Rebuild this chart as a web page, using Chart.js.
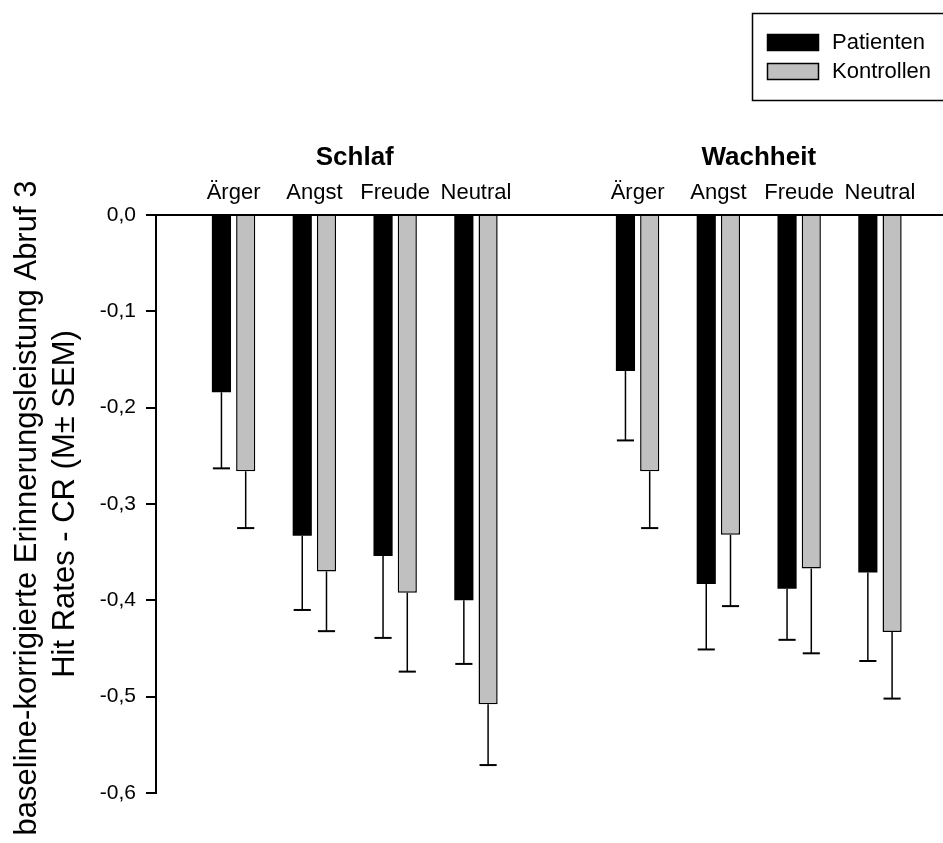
<!DOCTYPE html>
<html>
<head>
<meta charset="utf-8">
<script src="https://cdn.jsdelivr.net/npm/chart.js@4"></script>
<style>
  html, body { margin: 0; padding: 0; background: #fff; overflow: hidden; }
  canvas { display: block; }
</style>
</head>
<body>
<canvas id="chart" width="943" height="843"></canvas>
<script>
// Categories (two conditions, four emotions each)
const xPos = [1, 2, 3, 4, 6, 7, 8, 9]
const tickLabels = ["Ärger", "Angst", "Freude", "Neutral", "Ärger", "Angst", "Freude", "Neutral"]
const groupTitles = ["Schlaf", "Wachheit"]
const groupMembers = [[1, 2, 3, 4], [6, 7, 8, 9]]

// Series values (M) and error (SEM)
const patienten = [-0.184, -0.333, -0.354, -0.400, -0.162, -0.383, -0.388, -0.371]
const kontrollen = [-0.266, -0.370, -0.392, -0.508, -0.266, -0.332, -0.367, -0.433]
const semPatienten = [0.079, 0.077, 0.085, 0.066, 0.072, 0.068, 0.053, 0.092]
const semKontrollen = [0.059, 0.062, 0.082, 0.063, 0.059, 0.074, 0.088, 0.069]

// Axis ticks and titles
const yTicks = [0, -0.1, -0.2, -0.3, -0.4, -0.5, -0.6]
const yTitleLines = ["baseline-korrigierte Erinnerungsleistung Abruf 3", "Hit Rates - CR (M\u00b1 SEM)"]
const seriesNames = ["Patienten", "Kontrollen"]

const FONT = "'Liberation Sans', Arial, sans-serif"

// error bars drawn downward from the bar end
const errorBars = {
  id: "errorBars",
  afterDatasetsDraw(chart) {
    const { ctx } = chart
    const y = chart.scales.y
    const sems = [semPatienten, semKontrollen]
    ctx.save()
    ctx.strokeStyle = "#000"
    chart.data.datasets.forEach((ds, di) => {
      const meta = chart.getDatasetMeta(di)
      meta.data.forEach((bar, i) => {
        const v = ds.data[i].y
        const y0 = y.getPixelForValue(v)
        const y1 = y.getPixelForValue(v - sems[di][i])
        const half = bar.width / 2 - 1
        ctx.lineWidth = 1.5
        ctx.beginPath()
        ctx.moveTo(bar.x, y0)
        ctx.lineTo(bar.x, y1)
        ctx.stroke()
        ctx.lineWidth = 2
        ctx.beginPath()
        ctx.moveTo(bar.x - half, y1)
        ctx.lineTo(bar.x + half, y1)
        ctx.stroke()
      })
    })
    ctx.restore()
  }
}

// group titles, y title and boxed legend
const decorations = {
  id: "decorations",
  afterDraw(chart) {
    const { ctx } = chart
    const x = chart.scales.x
    ctx.save()
    ctx.fillStyle = "#000"

    ctx.font = "bold 26px " + FONT
    ctx.textAlign = "center"
    ctx.textBaseline = "alphabetic"
    groupTitles.forEach((t, i) => {
      const m = groupMembers[i]
      const cx = (x.getPixelForValue(m[0]) + x.getPixelForValue(m[m.length - 1])) / 2
      ctx.fillText(t, cx, 165)
    })

    ctx.save()
    ctx.rotate(-Math.PI / 2)
    ctx.font = "31px " + FONT
    ctx.fillText(yTitleLines[0], -508, 36)
    ctx.fillText(yTitleLines[1], -504, 74)
    ctx.restore()

    // legend
    ctx.lineWidth = 1.5
    ctx.strokeStyle = "#000"
    ctx.strokeRect(752.5, 13.5, 200, 87)
    ctx.font = "22px " + FONT
    ctx.textAlign = "left"
    ctx.textBaseline = "middle"
    chart.data.datasets.forEach((ds, i) => {
      const top = 34 + i * 29
      ctx.fillStyle = ds.backgroundColor
      ctx.fillRect(767, top, 52, 17)
      ctx.lineWidth = 1.5
      ctx.strokeRect(767.5, top + 0.5, 51, 16)
      ctx.fillStyle = "#000"
      ctx.fillText(ds.label, 832, top + 9)
    })
    ctx.restore()
  }
}

function initChart() {
  const ctx = document.getElementById("chart")
  new Chart(ctx, {
    type: "bar",
    data: {
      datasets: [
        {
          label: seriesNames[0],
          data: xPos.map((x, i) => ({ x, y: patienten[i] })),
          backgroundColor: "#000000",
          borderColor: "#000000",
          borderWidth: 0
        },
        {
          label: seriesNames[1],
          data: xPos.map((x, i) => ({ x, y: kontrollen[i] })),
          backgroundColor: "#c0c0c0",
          borderColor: "#000000",
          borderWidth: 1.5
        }
      ]
    },
    options: {
      responsive: false,
      animation: false,
      categoryPercentage: 0.6,
      barPercentage: 0.79,
      layout: { padding: { left: 0, right: 0, top: 0, bottom: 50 } },
      plugins: { legend: { display: false }, tooltip: { enabled: false } },
      scales: {
        x: {
          type: "linear",
          position: "top",
          offset: false,
          min: 0.04,
          max: 9.78,
          afterFit: s => { s.height = 215 },
          afterBuildTicks: s => { s.ticks = xPos.map(v => ({ value: v })) },
          grid: { display: false, drawTicks: false, offset: false },
          border: { display: true, color: "#000", width: 2 },
          ticks: {
            autoSkip: false,
            maxRotation: 0,
            padding: 9,
            color: "#000",
            font: { family: FONT, size: 22 },
            callback: v => { const i = xPos.indexOf(v); return i >= 0 ? tickLabels[i] : "" }
          }
        },
        y: {
          min: -0.6,
          max: 0,
          afterFit: s => { s.width = 156 },
          afterBuildTicks: s => { s.ticks = yTicks.map(v => ({ value: v })) },
          grid: { display: true, drawOnChartArea: false, drawTicks: true, tickLength: 10, color: "#000", lineWidth: 2 },
          border: { display: true, color: "#000", width: 2 },
          ticks: {
            padding: 10,
            color: "#000",
            font: { family: FONT, size: 21 },
            callback: v => v.toFixed(1).replace(".", ",")
          }
        }
      }
    },
    plugins: [errorBars, decorations]
  })
}

document.addEventListener("DOMContentLoaded", initChart)
</script>
</body>
</html>
